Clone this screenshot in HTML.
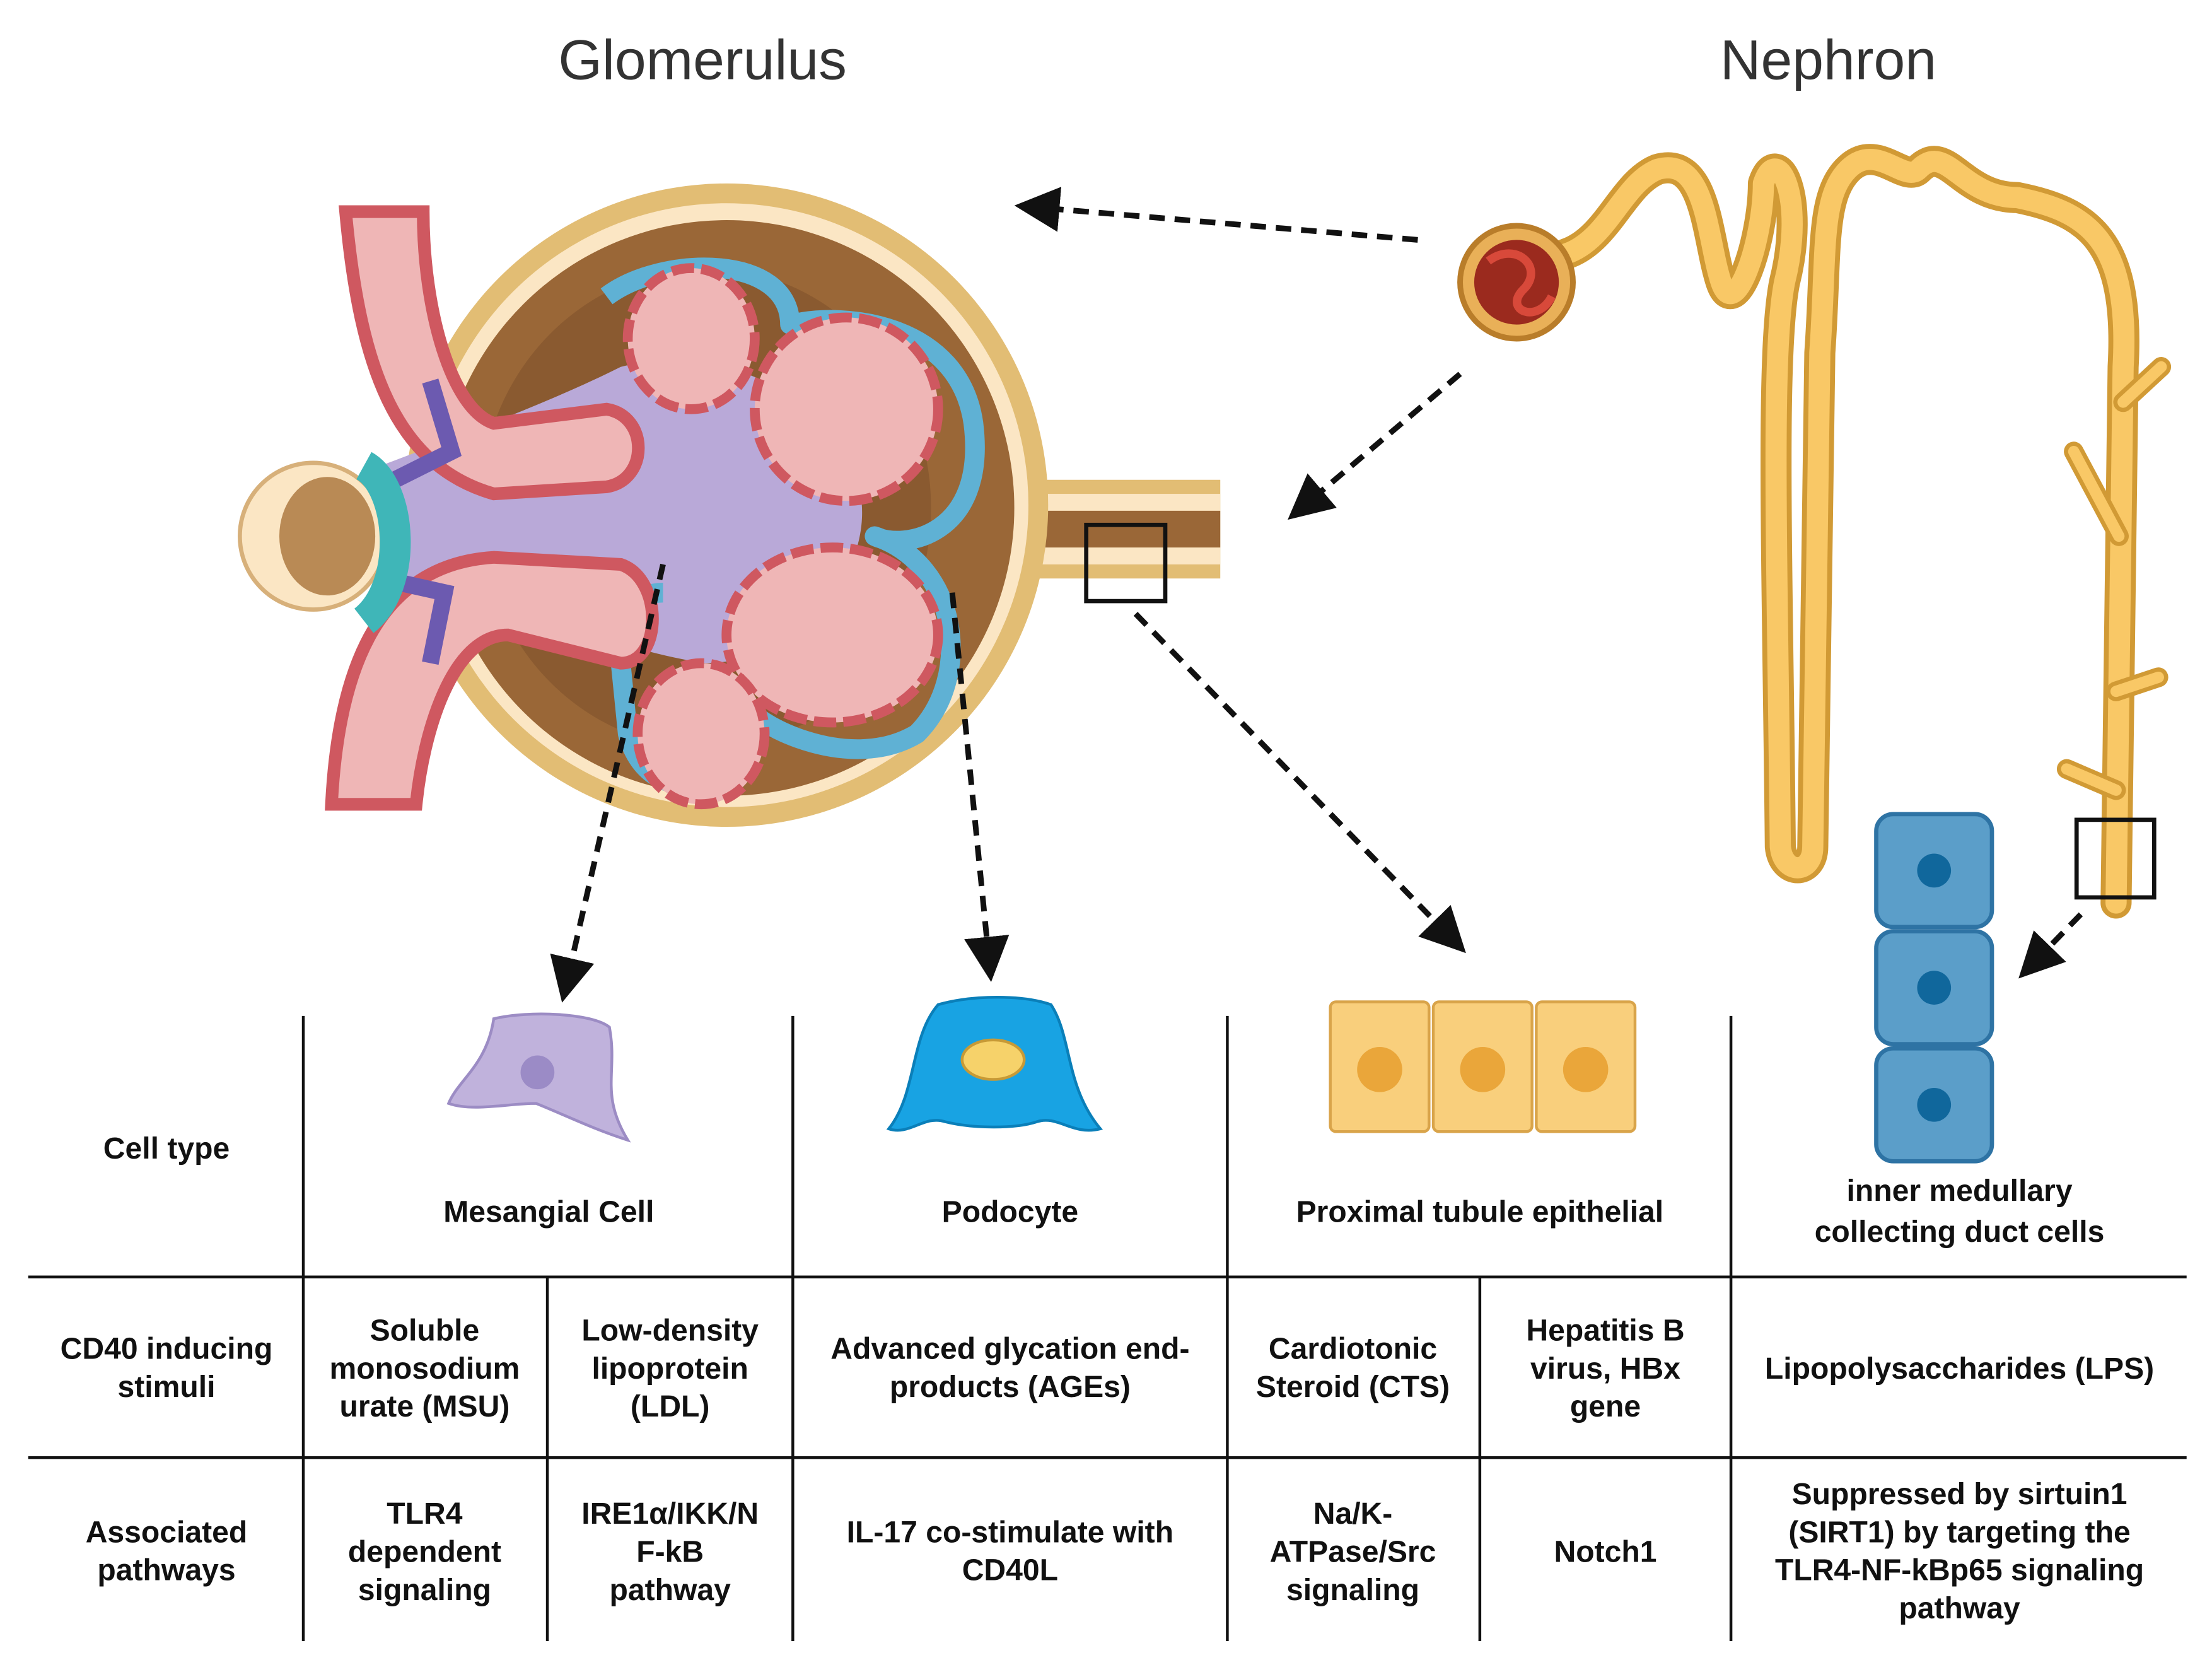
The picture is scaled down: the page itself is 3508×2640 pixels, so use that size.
<!DOCTYPE html>
<html><head><meta charset="utf-8"><style>
html,body{margin:0;padding:0;background:#fff}
svg{display:block}
text{font-family:"Liberation Sans",Arial,sans-serif}
.b{font-weight:bold;font-size:21.5px;fill:#111;text-anchor:middle}
</style></head><body>
<svg width="3508" height="2640" viewBox="0 0 1568 1180" xmlns="http://www.w3.org/2000/svg">
<defs>
<marker id="ah" markerWidth="8" markerHeight="8" refX="4" refY="4" orient="auto" markerUnits="strokeWidth">
<path d="M0,0 L8,4 L0,8 z" fill="#111"/></marker>
</defs>
<rect width="1568" height="1180" fill="#fff"/>
<text x="498" y="56" font-size="40" text-anchor="middle" fill="#333">Glomerulus</text>
<text x="1296" y="56" font-size="40" text-anchor="middle" fill="#333">Nephron</text>

<!-- Glomerulus -->
<g>
<path d="M720,340 L865,340 L865,410 L720,410 Z" fill="#e2bd74"/>
<rect x="730" y="350" width="135" height="12" fill="#fbe6c4"/>
<rect x="730" y="388" width="135" height="12" fill="#fbe6c4"/>
<rect x="720" y="362" width="145" height="26" fill="#9a6737"/>
<ellipse cx="515" cy="358" rx="228" ry="228" fill="#e2bd74"/>
<ellipse cx="515" cy="358" rx="214" ry="214" fill="#fbe6c4"/>
<ellipse cx="515" cy="360" rx="204" ry="204" fill="#9a6737"/>
<ellipse cx="500" cy="360" rx="160" ry="170" fill="#8a5a30"/>
<path d="M270,330 C350,300 400,280 440,260 C520,240 600,290 610,350 C620,410 560,470 500,470 C430,460 350,420 270,420 Z" fill="#b9a9d8"/>
<path d="M430,210 C470,180 560,180 560,230 C600,220 680,230 690,300 C700,380 640,390 620,380 C680,400 690,480 650,520 C600,550 530,510 530,500 C540,560 460,580 445,520 L440,470 C420,440 450,420 470,420" fill="none" stroke="#5fb1d4" stroke-width="14" stroke-linejoin="round"/>
<g fill="#efb6b6" stroke="#cf5860" stroke-width="7" stroke-dasharray="16 5">
<ellipse cx="490" cy="240" rx="45" ry="50"/>
<ellipse cx="600" cy="290" rx="65" ry="65"/>
<ellipse cx="590" cy="450" rx="75" ry="62"/>
<ellipse cx="497" cy="520" rx="45" ry="50"/>
</g>
<path d="M245,150 C255,260 280,330 350,350 L430,345 C460,340 460,295 430,290 L350,300 C320,290 300,220 300,150 Z" fill="#efb6b6" stroke="#cf5860" stroke-width="9"/>
<path d="M235,570 C240,470 270,400 350,395 L440,400 C470,410 470,470 440,470 L360,450 C320,450 300,520 295,570 Z" fill="#efb6b6" stroke="#cf5860" stroke-width="9"/>
<path d="M305,270 L320,320 L280,340" fill="none" stroke="#6c5ab0" stroke-width="12"/>
<path d="M305,470 L315,420 L270,410" fill="none" stroke="#6c5ab0" stroke-width="12"/>
<circle cx="222" cy="380" r="52" fill="#fbe6c4" stroke="#d7b07a" stroke-width="3"/>
<ellipse cx="232" cy="380" rx="34" ry="42" fill="#b98a55"/>
<path d="M258,330 C285,345 290,415 258,440" fill="none" stroke="#3fb6b8" stroke-width="22"/>
<rect x="770" y="372" width="56" height="54" fill="none" stroke="#111" stroke-width="3"/>
</g>

<!-- Nephron -->
<g fill="none" stroke-linecap="round" stroke-linejoin="round">
<path d="M1110,180 C1140,170 1150,130 1175,120 C1210,110 1210,170 1220,200 C1230,230 1250,170 1250,130 C1260,100 1280,140 1265,200 C1255,250 1260,400 1262,600 C1264,620 1285,620 1285,600 L1290,250 C1295,180 1290,140 1310,120 C1330,100 1350,130 1360,120 C1380,100 1390,140 1430,140 C1480,150 1510,170 1505,260 L1500,640" stroke="#d19a35" stroke-width="22"/>
<path d="M1110,180 C1140,170 1150,130 1175,120 C1210,110 1210,170 1220,200 C1230,230 1250,170 1250,130 C1260,100 1280,140 1265,200 C1255,250 1260,400 1262,600 C1264,620 1285,620 1285,600 L1290,250 C1295,180 1290,140 1310,120 C1330,100 1350,130 1360,120 C1380,100 1390,140 1430,140 C1480,150 1510,170 1505,260 L1500,640" stroke="#f9c866" stroke-width="15"/>
<path d="M1505,285 L1532,260 M1502,380 L1470,320 M1500,490 L1530,480 M1500,560 L1465,545" stroke="#d19a35" stroke-width="14"/>
<path d="M1505,285 L1532,260 M1502,380 L1470,320 M1500,490 L1530,480 M1500,560 L1465,545" stroke="#f9c866" stroke-width="8"/>
</g>
<circle cx="1075" cy="200" r="40" fill="#e9b058" stroke="#b97d2a" stroke-width="4"/>
<circle cx="1075" cy="200" r="30" fill="#9b2a1e"/>
<path d="M1055,185 C1075,170 1095,190 1080,205 C1065,220 1090,230 1100,210" fill="none" stroke="#d8493a" stroke-width="6"/>
<rect x="1472" y="581" width="55" height="55" fill="none" stroke="#111" stroke-width="3"/>

<g stroke="#111" stroke-width="4" stroke-dasharray="11 7" fill="none" marker-end="url(#ah)">
<line x1="1005" y1="170" x2="735" y2="147"/>
<line x1="1035" y1="265" x2="925" y2="358"/>
<line x1="470" y1="400" x2="402" y2="695"/>
<line x1="675" y1="420" x2="701" y2="680"/>
<line x1="805" y1="435" x2="1028" y2="664"/>
<line x1="1475" y1="648" x2="1442" y2="682"/>
</g>

<path d="M350,722 C375,716 420,718 432,728 C438,760 425,775 445,808 C420,800 400,790 380,782 C360,782 335,788 318,782 C325,765 345,755 350,722 Z" fill="#c0b2dc" stroke="#9c8cc4" stroke-width="2"/>
<circle cx="381" cy="760" r="12" fill="#9b8bc6"/>
<path d="M665,712 C690,705 725,705 745,712 C760,735 755,770 780,800 C760,805 750,790 735,795 C720,800 690,800 670,795 C655,790 645,805 630,800 C650,775 645,735 665,712 Z" fill="#18a3e3" stroke="#0a7fb9" stroke-width="2"/>
<ellipse cx="704" cy="751" rx="22" ry="14" fill="#f6d26a" stroke="#c79a36" stroke-width="2"/>
<g fill="#f9cf7c" stroke="#d9a44a" stroke-width="2">
<rect x="943" y="710" width="70" height="92" rx="4"/>
<rect x="1016" y="710" width="70" height="92" rx="4"/>
<rect x="1089" y="710" width="70" height="92" rx="4"/>
</g>
<g fill="#eaa63a"><circle cx="978" cy="758" r="16"/><circle cx="1051" cy="758" r="16"/><circle cx="1124" cy="758" r="16"/></g>
<g fill="#5b9ec9" stroke="#2e73a4" stroke-width="3">
<rect x="1330" y="577" width="82" height="80" rx="12"/>
<rect x="1330" y="660" width="82" height="80" rx="12"/>
<rect x="1330" y="743" width="82" height="80" rx="12"/>
</g>
<g fill="#10679c"><circle cx="1371" cy="617" r="12"/><circle cx="1371" cy="700" r="12"/><circle cx="1371" cy="783" r="12"/></g>

<g stroke="#111" stroke-width="2">
<line x1="215" y1="720" x2="215" y2="1163"/>
<line x1="562" y1="720" x2="562" y2="1163"/>
<line x1="870" y1="720" x2="870" y2="1163"/>
<line x1="1227" y1="720" x2="1227" y2="1163"/>
<line x1="388" y1="905" x2="388" y2="1163"/>
<line x1="1049" y1="905" x2="1049" y2="1163"/>
<line x1="20" y1="905" x2="1550" y2="905"/>
<line x1="20" y1="1033" x2="1550" y2="1033"/>
</g>
<text class="b" x="118" y="821">Cell type</text>
<text class="b" x="389" y="866">Mesangial Cell</text>
<text class="b" x="716" y="866">Podocyte</text>
<text class="b" x="1049" y="866">Proximal tubule epithelial</text>
<text class="b" x="1389" y="851">inner medullary</text>
<text class="b" x="1389" y="880">collecting duct cells</text>

<text class="b" x="118" y="963">CD40 inducing</text>
<text class="b" x="118" y="990">stimuli</text>
<text class="b" x="301" y="950">Soluble</text>
<text class="b" x="301" y="977">monosodium</text>
<text class="b" x="301" y="1004">urate (MSU)</text>
<text class="b" x="475" y="950">Low-density</text>
<text class="b" x="475" y="977">lipoprotein</text>
<text class="b" x="475" y="1004">(LDL)</text>
<text class="b" x="716" y="963">Advanced glycation end-</text>
<text class="b" x="716" y="990">products (AGEs)</text>
<text class="b" x="959" y="963">Cardiotonic</text>
<text class="b" x="959" y="990">Steroid (CTS)</text>
<text class="b" x="1138" y="950">Hepatitis B</text>
<text class="b" x="1138" y="977">virus, HBx</text>
<text class="b" x="1138" y="1004">gene</text>
<text class="b" x="1389" y="977">Lipopolysaccharides (LPS)</text>

<text class="b" x="118" y="1093">Associated</text>
<text class="b" x="118" y="1120">pathways</text>
<text class="b" x="301" y="1080">TLR4</text>
<text class="b" x="301" y="1107">dependent</text>
<text class="b" x="301" y="1134">signaling</text>
<text class="b" x="475" y="1080">IRE1α/IKK/N</text>
<text class="b" x="475" y="1107">F-kB</text>
<text class="b" x="475" y="1134">pathway</text>
<text class="b" x="716" y="1093">IL-17 co-stimulate with</text>
<text class="b" x="716" y="1120">CD40L</text>
<text class="b" x="959" y="1080">Na/K-</text>
<text class="b" x="959" y="1107">ATPase/Src</text>
<text class="b" x="959" y="1134">signaling</text>
<text class="b" x="1138" y="1107">Notch1</text>
<text class="b" x="1389" y="1066">Suppressed by sirtuin1</text>
<text class="b" x="1389" y="1093">(SIRT1) by targeting the</text>
<text class="b" x="1389" y="1120">TLR4-NF-kBp65 signaling</text>
<text class="b" x="1389" y="1147">pathway</text>
</svg>
</body></html>
